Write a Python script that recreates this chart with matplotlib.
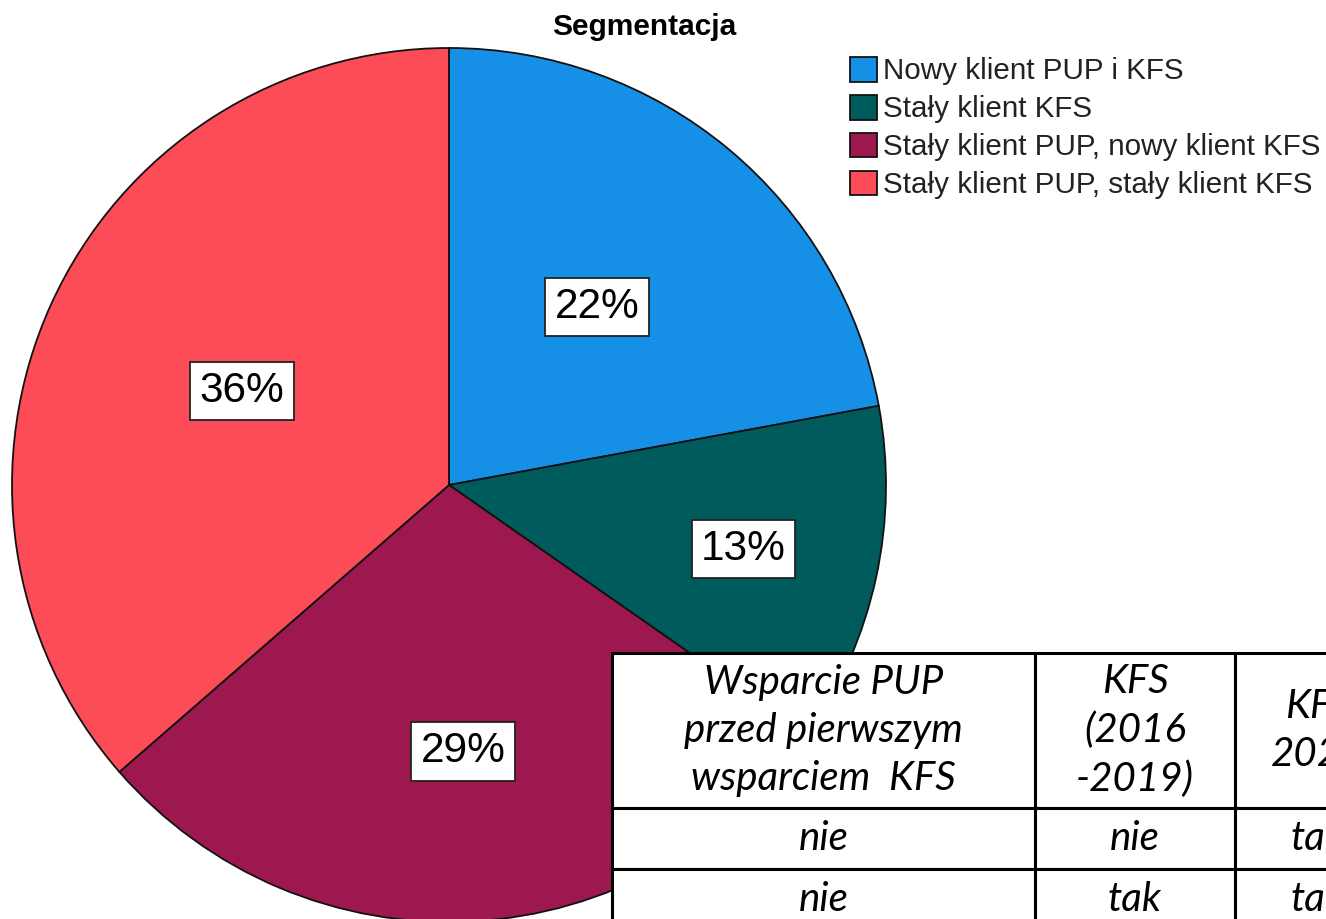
import matplotlib
matplotlib.use("Agg")
import matplotlib.pyplot as plt
import numpy as np

# ---- data ----
categories = ["Nowy klient PUP i KFS", "Stały klient KFS",
              "Stały klient PUP, nowy klient KFS", "Stały klient PUP, stały klient KFS"]
shares = [22.1, 12.6, 28.9, 36.4]
pct_labels = ["22%", "13%", "29%", "36%"]
colors = ["#1590e6", "#005c5c", "#9e1850", "#fb4c57"]
label_dist = [0.53, 0.69, 0.61, 0.52]

table_rows = [
    ["Wsparcie PUP\nprzed pierwszym\nwsparciem  KFS", "KFS\n(2016\n-2019)", "KFS\n2020"],
    ["nie", "nie", "tak"],
    ["nie", "tak", "tak"],
]

W, H = 1326, 919
fig = plt.figure(figsize=(W / 100, H / 100), dpi=100)
ax = fig.add_axes([0, 0, 1, 1])

cx, cy, R = 449, H - 485, 437
wedges, _ = ax.pie(shares, colors=colors, startangle=90, counterclock=False,
                   center=(cx, cy), radius=R, frame=True,
                   wedgeprops=dict(edgecolor="#111111", linewidth=1.3))
ax.set_xlim(0, W)
ax.set_ylim(0, H)
ax.set_aspect("equal")
ax.axis("off")

for w, lab, d in zip(wedges, pct_labels, label_dist):
    mid = np.deg2rad((w.theta1 + w.theta2) / 2)
    x = cx + d * R * np.cos(mid)
    y = cy + d * R * np.sin(mid)
    ax.text(x, y, lab, ha="center", va="center", fontsize=30.5,
            family="Liberation Sans", zorder=6,
            bbox=dict(boxstyle="square,pad=0.22", facecolor="white",
                      edgecolor="#222222", linewidth=1.3))

fig.text(644 / W, 1 - 27 / H, "Segmentacja", ha="center", va="center",
         fontsize=21.5, fontweight="bold", family="Liberation Sans")

leg = ax.legend(wedges, categories, loc="upper left",
                bbox_to_anchor=(850 / W, 1 - 57 / H), frameon=False,
                prop=dict(family="Liberation Sans", size=21.3),
                handlelength=0.9, handleheight=0.9, handletextpad=0.2,
                labelspacing=0.32, borderaxespad=0, borderpad=0)
for t in leg.get_texts():
    t.set_color("#222222")

# ---- table overlay ----
col_px = [423, 200, 166]
row_px = [155, 61, 61]
x0, top = 612, 653
tot_w = sum(col_px)
tot_h = sum(row_px)
tbl = ax.table(cellText=table_rows, cellLoc="center",
               colWidths=[c / tot_w for c in col_px],
               bbox=[x0 / W, (H - top - tot_h) / H, tot_w / W, tot_h / H])
tbl.auto_set_font_size(False)
tbl.set_zorder(8)
for (r, c), cell in tbl.get_celld().items():
    cell.set_height(row_px[r] / tot_h)
    cell.set_linewidth(2.2)
    cell.set_edgecolor("black")
    cell.set_facecolor("white")
    t = cell.get_text()
    t.set_fontsize(29)
    t.set_fontfamily("Lato")
    t.set_fontstyle("italic")
    t.set_linespacing(1.38)

fig.savefig("out.png", dpi=100)
